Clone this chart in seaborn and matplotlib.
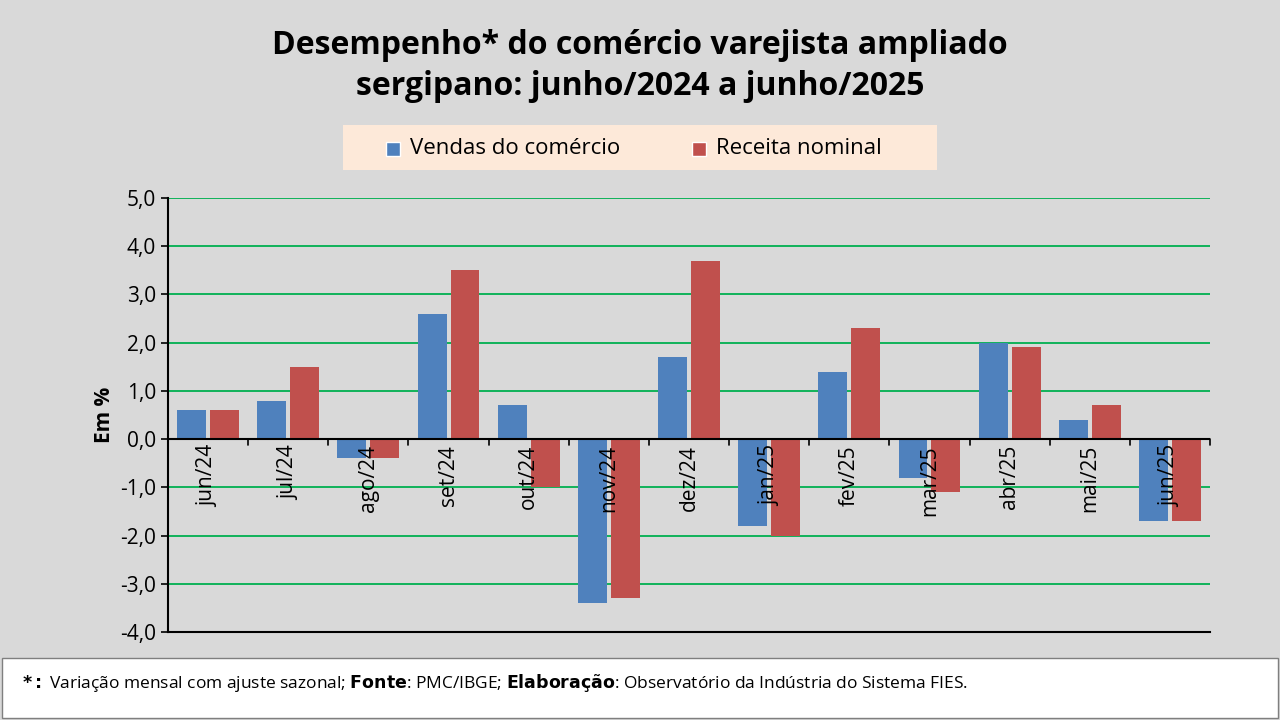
import pandas as pd
import seaborn as sns
import matplotlib.pyplot as plt
from matplotlib.patches import Rectangle

months = ["jun/24", "jul/24", "ago/24", "set/24", "out/24", "nov/24", "dez/24",
          "jan/25", "fev/25", "mar/25", "abr/25", "mai/25", "jun/25"]
vendas = [0.6, 0.8, -0.4, 2.6, 0.7, -3.4, 1.7, -1.8, 1.4, -0.8, 2.0, 0.4, -1.7]
receita = [0.6, 1.5, -0.4, 3.5, -1.0, -3.3, 3.7, -2.0, 2.3, -1.1, 1.9, 0.7, -1.7]

df = pd.DataFrame({"mes": months, "Vendas do comércio": vendas, "Receita nominal": receita})
df = df.melt(id_vars="mes", var_name="serie", value_name="valor")

sns.set_style("white")
plt.rcParams["font.family"] = ["Open Sans", "DejaVu Sans"]
plt.rcParams["text.color"] = "black"
plt.rcParams["ytick.color"] = "black"
plt.rcParams["axes.labelcolor"] = "black"

bg = "#d9d9d9"
fig = plt.figure(figsize=(12.8, 7.2), dpi=100, facecolor=bg)
ax = fig.add_axes([168 / 1280, 1 - 632 / 720, (1210 - 168) / 1280, (632 - 198) / 720])
ax.set_facecolor(bg)

sns.barplot(data=df, x="mes", y="valor", hue="serie", ax=ax, saturation=1,
            palette=["#4f81bd", "#c0504d"], width=0.82, gap=0.12, legend=False,
            linewidth=0, edgecolor="none")

ax.set_ylim(-4, 5)
ax.set_yticks(range(-4, 6))
ax.set_yticklabels([f"{v:.1f}".replace(".", ",") for v in range(-4, 6)], fontsize=15)
ax.yaxis.grid(True, color="#00b050", linewidth=1.3)
ax.set_axisbelow(True)
ax.set_xlim(-0.5, len(months) - 0.5)
ax.set_xticks([])
ax.set_xlabel("")
ax.set_ylabel("Em %", fontsize=15, fontweight="bold")
for s in ["top", "right"]:
    ax.spines[s].set_visible(False)
for s in ["left", "bottom"]:
    ax.spines[s].set_color("black")
    ax.spines[s].set_linewidth(1.5)
ax.tick_params(axis="y", length=5, width=1.2, color="black", direction="out", left=True)

ax.axhline(0, color="black", linewidth=1.5)
for i in range(len(months) + 1):
    ax.plot([i - 0.5, i - 0.5], [0, -0.12], color="black", linewidth=1.2, clip_on=False)
for i, m in enumerate(months):
    ax.text(i, -0.12, m, rotation=90, ha="center", va="top", fontsize=15)

fig.text(0.5, 1 - 66 / 720, "Desempenho* do comércio varejista ampliado\nsergipano: junho/2024 a junho/2025",
         ha="center", va="center", fontsize=23, fontweight="bold", linespacing=1.35)

# legend box
fig.patches.append(Rectangle((343 / 1280, 1 - 170 / 720), (937 - 343) / 1280, 45 / 720,
                             transform=fig.transFigure, facecolor="#fde9d9", edgecolor="none"))
for x0, col, lab in [(386, "#4f81bd", "Vendas do comércio"), (692, "#c0504d", "Receita nominal")]:
    fig.patches.append(Rectangle((x0 / 1280, 1 - 156 / 720), 14 / 1280, 14 / 720,
                                 transform=fig.transFigure, facecolor=col))
    fig.text((x0 + 24) / 1280, 1 - 148 / 720, lab, fontsize=16, va="center")

# footer
fig.patches.append(Rectangle((2 / 1280, 0.003), 1276 / 1280, 60 / 720,
                             transform=fig.transFigure, facecolor="white", edgecolor="#7f7f7f"))
fig.text(22 / 1280, 1 - 683 / 720, r"$\bf{*:}$ Variação mensal com ajuste sazonal; $\bf{Fonte}$: PMC/IBGE; "
         r"$\bf{Elaboração}$: Observatório da Indústria do Sistema FIES.", fontsize=12.5, va="center")

fig.savefig("out.png", dpi=100, facecolor=bg)
